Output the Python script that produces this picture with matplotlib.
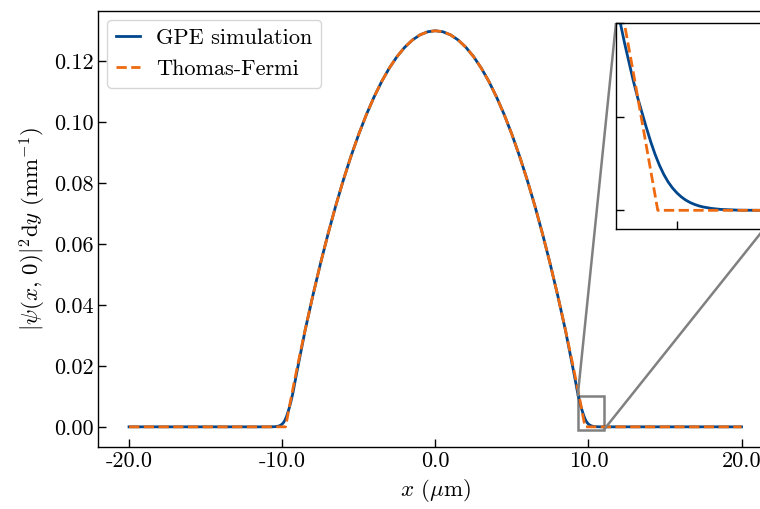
import matplotlib
matplotlib.use("Agg")
import matplotlib.pyplot as plt
from matplotlib.ticker import FormatStrFormatter, MultipleLocator, NullFormatter
from mpl_toolkits.axes_grid1.inset_locator import mark_inset

plt.rcParams['font.family'] = ['cmr10', 'DejaVu Serif']
plt.rcParams['mathtext.fontset'] = 'cm'
plt.rcParams['axes.unicode_minus'] = False
plt.rcParams['axes.formatter.use_mathtext'] = True
plt.rcParams['font.size'] = 16

# ---- data ----
tf_x = [-20.0, -15.0, -9.78, -9.5, -9.25, -9.0, -8.5, -8.0, -7.5, -7.0, -6.5, -6.0, -5.5, -5.0,
        -4.5, -4.0, -3.5, -3.0, -2.5, -2.0, -1.5, -1.0, -0.5, 0.0,
        0.5, 1.0, 1.5, 2.0, 2.5, 3.0, 3.5, 4.0, 4.5, 5.0, 5.5, 6.0, 6.5, 7.0,
        7.5, 8.0, 8.5, 9.0, 9.25, 9.5, 9.78, 15.0, 20.0]
tf_y = [0.0, 0.0, 0.0, 0.00734, 0.01371, 0.01991, 0.03180, 0.04302, 0.05355, 0.06340, 0.07258,
        0.08107, 0.08889, 0.09602, 0.10248, 0.10825, 0.11335, 0.11777, 0.12151, 0.12456,
        0.12694, 0.12864, 0.12966, 0.13000,
        0.12966, 0.12864, 0.12694, 0.12456, 0.12151, 0.11777, 0.11335, 0.10825, 0.10248,
        0.09602, 0.08889, 0.08107, 0.07258, 0.06340, 0.05355, 0.04302, 0.03180, 0.01991,
        0.01371, 0.00734, 0.0, 0.0, 0.0]

gpe_x_edge = [9.0, 9.1, 9.2, 9.25, 9.3, 9.35, 9.4, 9.45, 9.5, 9.55, 9.6, 9.65, 9.7, 9.75,
              9.8, 9.85, 9.9, 9.95, 10.0, 10.05, 10.1, 10.15, 10.2, 10.25, 10.3, 10.4,
              10.5, 10.6, 10.7, 10.8, 11.0, 12.0, 15.0, 20.0]
gpe_y_edge = [0.0190, 0.0164, 0.0138, 0.0124, 0.0111, 0.0100, 0.0089, 0.0079, 0.0069,
              0.0060, 0.0052, 0.0044, 0.00365, 0.00298, 0.00240, 0.00191, 0.00151,
              0.00119, 0.00093, 0.00072, 0.00055, 0.00042, 0.00032, 0.00024, 0.00018,
              0.00010, 0.00005, 0.00003, 0.00001, 0.000005, 0.0, 0.0, 0.0, 0.0]
gpe_x_core = [-8.5, -8.0, -7.5, -7.0, -6.5, -6.0, -5.5, -5.0, -4.5, -4.0, -3.5, -3.0, -2.5,
              -2.0, -1.5, -1.0, -0.5, 0.0, 0.5, 1.0, 1.5, 2.0, 2.5, 3.0, 3.5, 4.0, 4.5,
              5.0, 5.5, 6.0, 6.5, 7.0, 7.5, 8.0, 8.5]
gpe_y_core = [0.03170, 0.04300, 0.05355, 0.06340, 0.07258, 0.08107, 0.08889, 0.09602,
              0.10248, 0.10825, 0.11335, 0.11777, 0.12151, 0.12456, 0.12694, 0.12864,
              0.12966, 0.13000, 0.12966, 0.12864, 0.12694, 0.12456, 0.12151, 0.11777,
              0.11335, 0.10825, 0.10248, 0.09602, 0.08889, 0.08107, 0.07258, 0.06340,
              0.05355, 0.04300, 0.03170]

gpe_x = [-v for v in gpe_x_edge[::-1]] + gpe_x_core + gpe_x_edge
gpe_y = gpe_y_edge[::-1] + gpe_y_core + gpe_y_edge

blue = '#00468C'
orange = '#EE6A10'

fig = plt.figure(figsize=(7.6, 5.09), dpi=100)
ax = fig.add_axes([0.1295, 0.1225, 0.8865, 0.856])


def draw(a):
    a.plot(gpe_x, gpe_y, color=blue, lw=2.0, label='GPE simulation')
    a.plot(tf_x, tf_y, color=orange, lw=2.0, ls='--', label='Thomas-Fermi')


draw(ax)
ax.set_xlim(-22, 22)
ax.set_ylim(-0.0065, 0.1365)
ax.xaxis.set_major_locator(MultipleLocator(10))
ax.xaxis.set_major_formatter(FormatStrFormatter('%.1f'))
ax.yaxis.set_major_locator(MultipleLocator(0.02))
ax.yaxis.set_major_formatter(FormatStrFormatter('%.2f'))
ax.tick_params(direction='in', length=6, width=1.0, top=False, right=False)
for s in ax.spines.values():
    s.set_linewidth(1.0)
ax.set_xlabel(r'$x$ ($\mu$m)', fontsize=16.5)
ax.set_ylabel(r'$|\psi(x,\,0)|^2\mathrm{d}y$ (mm$^{-1}$)', fontsize=16.5)
ax.legend(loc='upper left', handlelength=1.05, handletextpad=0.75,
          borderaxespad=0.4, fancybox=True)

axins = fig.add_axes([0.8105, 0.550, 0.1947, 0.4047])
draw(axins)
axins.set_xlim(9.3, 11.0)
axins.set_ylim(-0.001, 0.01)
axins.xaxis.set_major_locator(MultipleLocator(1))
axins.yaxis.set_major_locator(MultipleLocator(0.005))
axins.xaxis.set_major_formatter(NullFormatter())
axins.yaxis.set_major_formatter(NullFormatter())
axins.tick_params(direction='in', length=6, width=1.0, top=False, right=False)
for s in axins.spines.values():
    s.set_linewidth(1.0)

mark_inset(ax, axins, loc1=2, loc2=4, fc='none', ec='0.5', lw=1.8)

fig.savefig('out.png', dpi=100)
